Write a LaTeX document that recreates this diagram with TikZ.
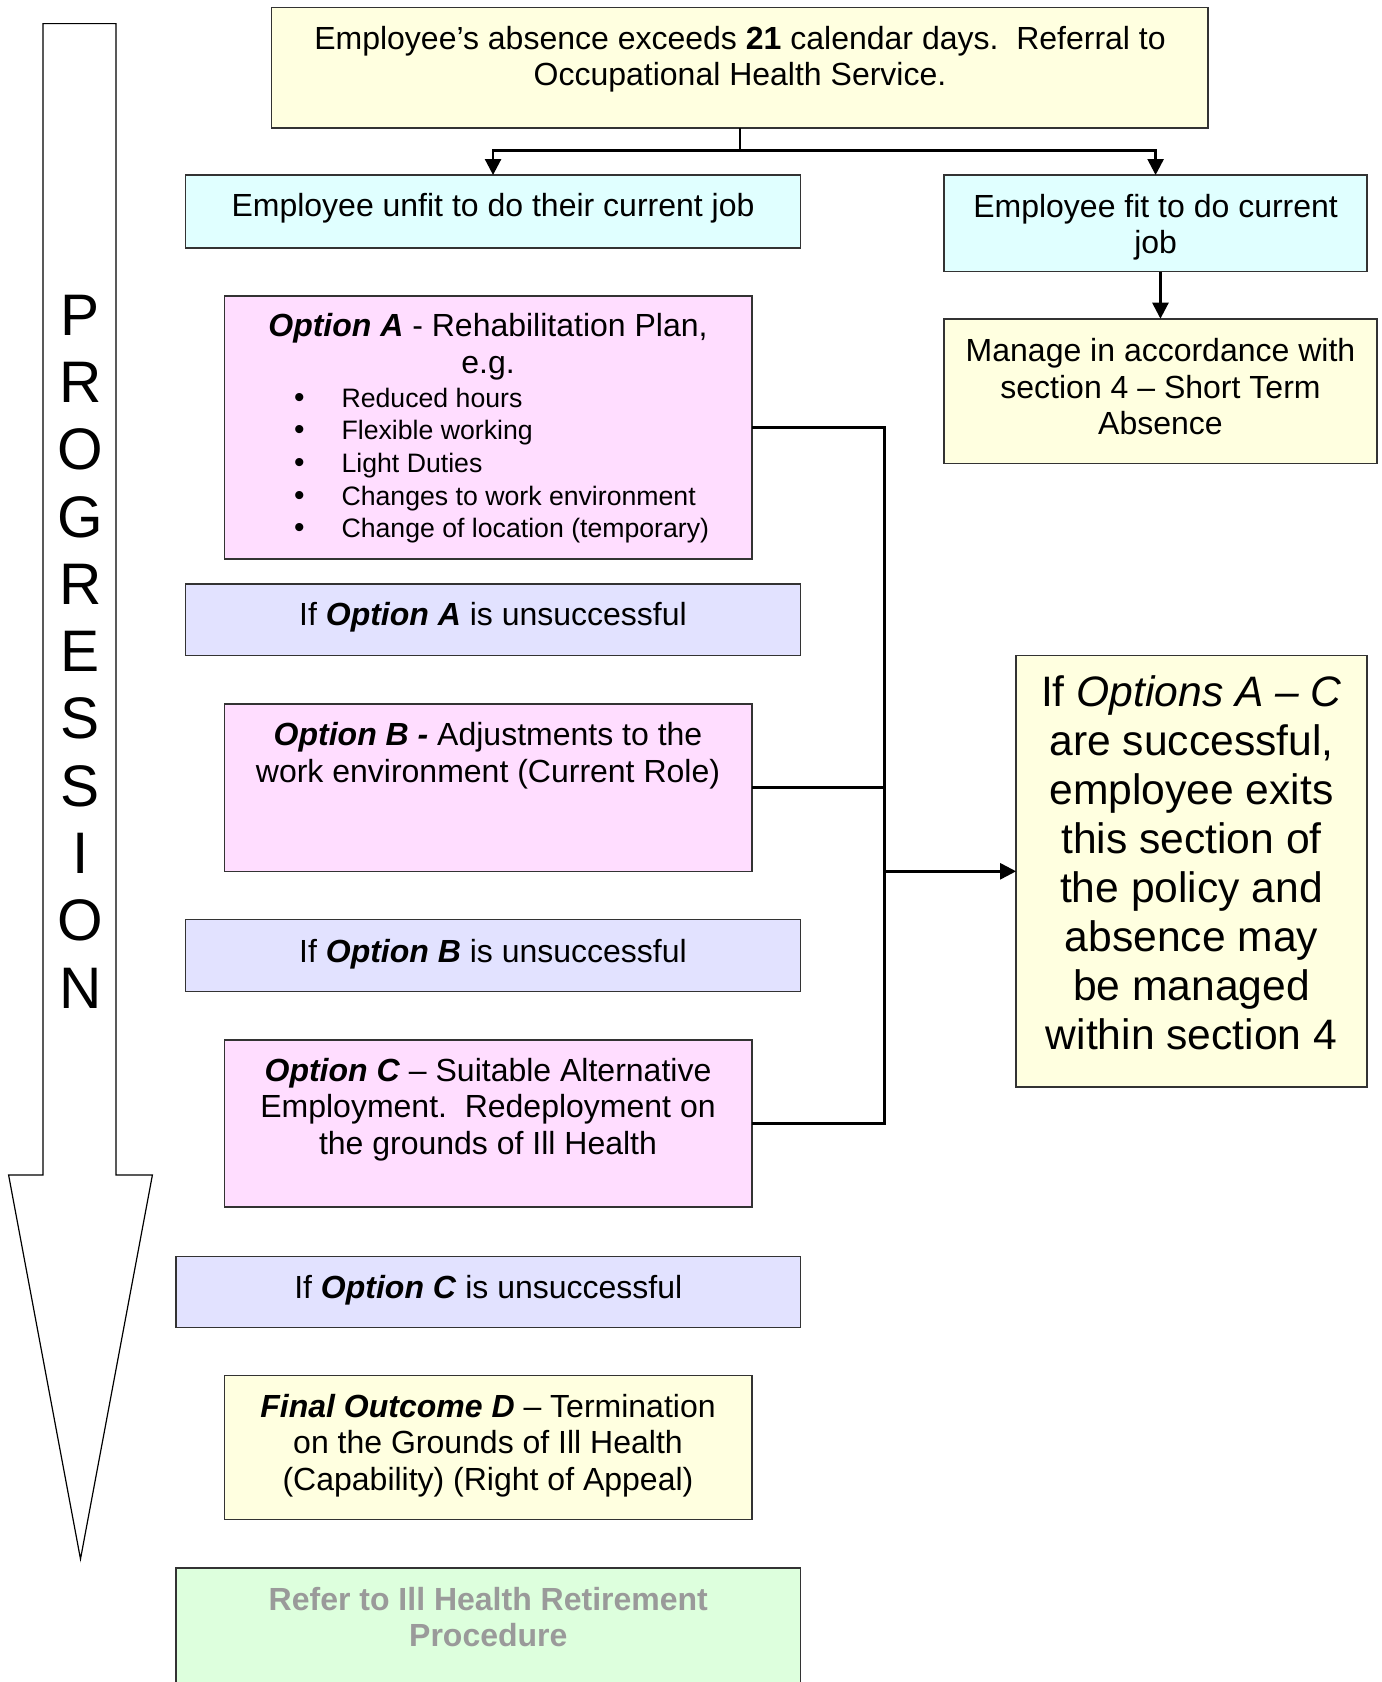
\documentclass[tikz,border=0pt]{standalone}
\usepackage{fontspec}
\setmainfont{Liberation Sans}
\usetikzlibrary{arrows.meta,fit}
\definecolor{cyel}{HTML}{FFFFE0}
\definecolor{ccyan}{HTML}{E0FFFF}
\definecolor{cpink}{HTML}{FFDDFF}
\definecolor{clav}{HTML}{E2E2FF}
\definecolor{cgreen}{HTML}{DDFFDD}
\definecolor{cgray}{HTML}{9A9A9A}
\newcommand{\optname}[1]{\textbf{\textit{#1}}}
\begin{document}
\begin{tikzpicture}[x=0.5pt,y=-0.5pt,
  box/.style={draw=black!80,line width=0.8pt,inner sep=0pt,outer sep=0pt},
  txt/.style={align=center,inner sep=0pt,font=\fontsize{16}{18.25}\selectfont},
  bigtxt/.style={align=center,inner sep=0pt,font=\fontsize{21.3}{24.5}\selectfont},
  smalltxt/.style={align=left,inner sep=0pt,font=\fontsize{13.33}{16.3}\selectfont},
  conn/.style={line width=1.3pt,draw=black},
  arr/.style={conn,-{Triangle[length=8pt,width=8pt]}},
]
\clip (0,0) rectangle (1382,1682);
\fill[white] (0,0) rectangle (1382,1682);

% progression arrow
\draw[line width=0.6pt,fill=white] (42.9,23.6) -- (115.9,23.6) -- (115.9,1175) -- (152.4,1175) -- (80.5,1559) -- (8.6,1175) -- (42.9,1175) -- cycle;
\node[inner sep=0pt,align=center,font=\fontsize{29.3}{33.65}\selectfont] (prog) at (80.5,651.5) {P\\R\\O\\G\\R\\E\\S\\S\\I\\O\\N};

% boxes
\node[box,fill=cyel,fit={(271.5,7.5) (1208.2,127.7)}] (top) {};
\node[txt] (toptxt) at (740,59) {Employee’s absence exceeds \textbf{21} calendar days.\ \ Referral to\\Occupational Health Service.};

\node[box,fill=ccyan,fit={(185.6,175) (800.5,247.9)}] (unfit) {};
\node[txt] (unfittxt) at (493,208.5) {Employee unfit to do their current job};

\node[box,fill=ccyan,fit={(944.2,175) (1367,271.5)}] (fit) {};
\node[txt] (fittxt) at (1155.6,227) {Employee fit to do current\\job};

\node[box,fill=cyel,fit={(944.2,318.7) (1376.7,463.5)}] (manage) {};
\node[txt] (managetxt) at (1160.5,387) {Manage in accordance with\\section 4 – Short Term\\Absence};

\node[box,fill=cpink,fit={(224.3,296.1) (752.2,559)}] (optA) {};
\node[txt] (optAtxt) at (488,346.5) {\optname{Option A} - Rehabilitation Plan,\\e.g.};
\node[smalltxt,anchor=west] (optAlist) at (293.6,465.5) {\makebox[23.8pt][l]{\fontsize{15}{16.3}\selectfont •}Reduced hours\\\makebox[23.8pt][l]{\fontsize{15}{16.3}\selectfont •}Flexible working\\\makebox[23.8pt][l]{\fontsize{15}{16.3}\selectfont •}Light Duties\\\makebox[23.8pt][l]{\fontsize{15}{16.3}\selectfont •}Changes to work environment\\\makebox[23.8pt][l]{\fontsize{15}{16.3}\selectfont •}Change of location (temporary)};

\node[box,fill=clav,fit={(185.6,583.7) (800.5,655.6)}] (ifA) {};
\node[txt] (ifAtxt) at (493,617) {If \optname{Option A} is unsuccessful};

\node[box,fill=cpink,fit={(224.3,703.9) (752.2,871.3)}] (optB) {};
\node[txt] (optBtxt) at (488,755.5) {\optname{Option B -} Adjustments to the\\work environment (Current Role)};

\node[box,fill=clav,fit={(185.6,919.6) (800.5,991.5)}] (ifB) {};
\node[txt] (ifBtxt) at (493,954) {If \optname{Option B} is unsuccessful};

\node[box,fill=cpink,fit={(224.3,1039.7) (752.2,1207.1)}] (optC) {};
\node[txt] (optCtxt) at (488,1109.5) {\optname{Option C} – Suitable Alternative\\Employment.\ \ Redeployment on\\the grounds of Ill Health};

\node[box,fill=clav,fit={(176,1256.5) (800.5,1327.3)}] (ifC) {};
\node[txt] (ifCtxt) at (488.3,1290) {If \optname{Option C} is unsuccessful};

\node[box,fill=cyel,fit={(224.3,1375.6) (752.2,1519.4)}] (finalD) {};
\node[txt] (finalDtxt) at (488,1445.5) {\optname{Final Outcome D} – Termination\\on the Grounds of Ill Health\\(Capability) (Right of Appeal)};

\node[box,fill=cgreen,fit={(176,1567.7) (800.5,1720)}] (refer) {};
\node[txt,text=cgray,font=\fontsize{16}{18.25}\selectfont\bfseries] (refertxt) at (488.3,1617) {Refer to Ill Health Retirement\\Procedure};

\node[box,fill=cyel,fit={(1016.1,655.6) (1367,1087)}] (exit) {};
\node[bigtxt] (exittxt) at (1191.5,863) {If \textit{Options A – C}\\are successful,\\employee exits\\this section of\\the policy and\\absence may\\be managed\\within section 4};

% connectors
\coordinate (split) at (top.south |- 0,150.2);
\draw[conn] (top.south) -- (split);
\draw[arr] (split) -| (unfit.north);
\draw[arr] (split) -| (fit.north);
\draw[arr] (manage.north |- fit.south) -- (manage.north);

\coordinate (bus) at (884.2,0);
\draw[conn] (optA.east) -| (bus |- optC.east) -- (optC.east);
\draw[conn] (optB.east) -- (bus |- optB.east);
\draw[arr] (bus |- exit.west) -- (exit.west);
\end{tikzpicture}
\end{document}
